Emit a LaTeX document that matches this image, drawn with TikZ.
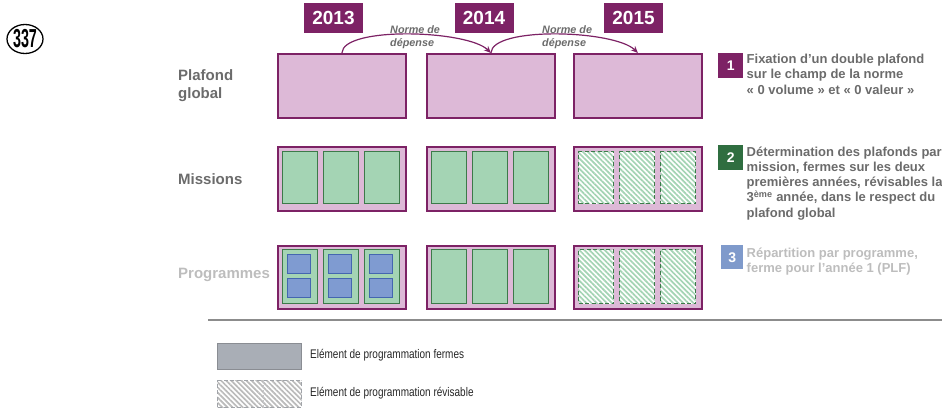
\documentclass[tikz,border=0pt]{standalone}
\usepackage{fontspec}
\setmainfont{Liberation Sans}
\newfontfamily\narrowfont[FakeStretch=0.8]{Liberation Sans}
\newfontfamily\condfont[FakeStretch=0.55]{Liberation Sans}
\usetikzlibrary{patterns.meta,arrows.meta,shapes.geometric}
\definecolor{purp}{HTML}{7D2265}
\definecolor{pinkf}{HTML}{DDB9D7}
\definecolor{greenf}{HTML}{A4D4B4}
\definecolor{greend}{HTML}{3D7A4A}
\definecolor{greenlab}{HTML}{2F6E40}
\definecolor{bluef}{HTML}{7F9BD1}
\definecolor{blued}{HTML}{4466B0}
\definecolor{bluelab}{HTML}{7F9ACB}
\definecolor{txtgrey}{HTML}{6B6B6B}
\definecolor{txtlight}{HTML}{BDBDBD}
\definecolor{legfill}{HTML}{A9AEB6}
\definecolor{legdraw}{HTML}{8A8D93}
\definecolor{hatchgrey}{HTML}{BBBBBB}
\definecolor{sepgrey}{HTML}{8C8C8C}
\begin{document}
\begin{tikzpicture}[x=1pt,y=-1pt,
  bigbox/.style={draw=purp, fill=pinkf, line width=1.8pt, minimum width=128pt, minimum height=64pt, anchor=north west, inner sep=0pt},
  greenbox/.style={draw=greend, fill=greenf, line width=1.4pt, minimum width=35pt, minimum height=52pt, anchor=north west, inner sep=0pt},
  bluebox/.style={draw=blued, fill=bluef, line width=1.3pt, minimum width=23pt, minimum height=19pt, anchor=north west, inner sep=0pt},
  hatchbox/.style={preaction={fill=white}, pattern={Lines[angle=-45,distance=3.6pt,line width=1.7pt]}, pattern color=greenf, draw=greend, line width=1.4pt, dash pattern=on 4pt off 2.6pt, minimum width=35pt, minimum height=52pt, anchor=north west, inner sep=0pt},
  yearbox/.style={fill=purp, text=white, font=\fontsize{19}{19}\selectfont\bfseries, minimum width=59pt, minimum height=30pt, inner sep=0pt},
  numbox/.style={text=white, font=\fontsize{14}{14}\selectfont\bfseries, minimum width=25pt, minimum height=25pt, anchor=north west, inner sep=0pt},
  desc/.style={anchor=north west, align=left, inner sep=0pt, text=txtgrey, font=\fontsize{13}{15.2}\selectfont\bfseries},
  rowlab/.style={align=left, inner sep=0pt, text=txtgrey, font=\fontsize{15}{18}\selectfont\bfseries},
  normlab/.style={anchor=north west, align=left, inner sep=0pt, text=txtgrey, font=\fontsize{10.8}{12.5}\selectfont\bfseries\itshape},
  arr/.style={draw=purp, line width=1.2pt, -{Stealth[length=7pt,width=6pt]}},
  legtxt/.style={anchor=west, inner sep=0pt, text=black!85, font=\narrowfont\fontsize{12.5}{12.5}\selectfont}
]
\path[use as bounding box] (0,0) rectangle (942,409);

% logo
\node[draw, ellipse, line width=1.3pt, minimum width=36pt, minimum height=29pt, inner sep=0pt] (logo) at (25,39) {\condfont\bfseries\fontsize{26}{26}\selectfont 337};

% years
\node[yearbox] (y13) at (333.5,18) {2013};
\node[yearbox] (y14) at (484,18) {2014};
\node[yearbox] (y15) at (633.5,18) {2015};

% row labels
\node[rowlab, anchor=north west] (lpg) at (178,69.5) {Plafond\\global};
\node[rowlab, anchor=west] (lmi) at (178,179) {Missions};
\node[rowlab, anchor=base west, text=txtlight] (lpr) at (178,278.4) {Programmes};

% boxes
\foreach \c/\X in {a/277,b/426,c/573}{
  \node[bigbox] (pg\c) at (\X,53) {};
  \node[bigbox] (mi\c) at (\X,146) {};
  \node[bigbox, minimum height=63pt] (pr\c) at (\X,245) {};
}
\foreach \i/\dx in {1/5,2/46,3/87}{
  \node[greenbox] (mia\i) at (277+\dx,151) {};
  \node[greenbox] (mib\i) at (426+\dx,151) {};
  \node[hatchbox] (mic\i) at (573+\dx,151) {};
  \node[greenbox, minimum height=54pt] (pra\i) at (277+\dx,249) {};
  \node[bluebox] (pra\i u) at (282+\dx,254) {};
  \node[bluebox] (pra\i d) at (282+\dx,278) {};
  \node[greenbox, minimum height=54pt] (prb\i) at (426+\dx,249) {};
  \node[hatchbox, minimum height=54pt] (prc\i) at (573+\dx,249) {};
}

% arrows
\draw[arr] (pga.north) .. controls +(1,-27) and +(-23,-23) .. (pgb.north);
\draw[arr] (pgb.north) .. controls +(1,-27) and +(-23,-23) .. (pgc.north);
\node[normlab] (n1) at (390,25.5) {Norme de\\dépense};
\node[normlab] (n2) at (542,25.5) {Norme de\\dépense};

% right-hand explanations
\node[numbox, fill=purp] (k1) at (718,53) {1};
\node[desc] (d1) at (746.5,54) {Fixation d’un double plafond\\sur le champ de la norme\\« 0 volume » et « 0 valeur »};
\node[numbox, fill=greenlab] (k2) at (718,145) {2};
\node[desc] (d2) at (746.5,146.5) {Détermination des plafonds par\\mission, fermes sur les deux\\premières années, révisables la\\3\textsuperscript{ème} année, dans le respect du\\plafond global};
\node[numbox, fill=bluelab, minimum width=22pt, minimum height=24pt] (k3) at (721,245) {3};
\node[desc, text=txtlight] (d3) at (746.5,247.5) {Répartition par programme,\\ferme pour l’année 1 (PLF)};

% separator
\coordinate (sepA) at (208,320);
\coordinate (sepB) at (942,320);
\draw[draw=sepgrey, line width=1.5pt] (sepA) -- (sepB);

% legend
\node[draw=legdraw, fill=legfill, line width=1.4pt, minimum width=84pt, minimum height=26pt, anchor=north west, inner sep=0pt] (lg1) at (217,343) {};
\node[preaction={fill=white}, pattern={Lines[angle=-45,distance=3.6pt,line width=1.7pt]}, pattern color=hatchgrey, draw=legdraw!80, line width=1.3pt, dash pattern=on 4pt off 2.6pt, minimum width=84pt, minimum height=27pt, anchor=north west, inner sep=0pt] (lg2) at (217,380) {};
\draw[draw=legdraw!50, line width=0.8pt, dash pattern=on 3pt off 2pt] (lg2.north) ++(4,0) coordinate (dv1) -- (dv1 |- lg2.south);
\node[legtxt] (lt1) at (310,355) {Elément de programmation fermes};
\node[legtxt] (lt2) at (310,393) {Elément de programmation révisable};
\end{tikzpicture}
\end{document}
